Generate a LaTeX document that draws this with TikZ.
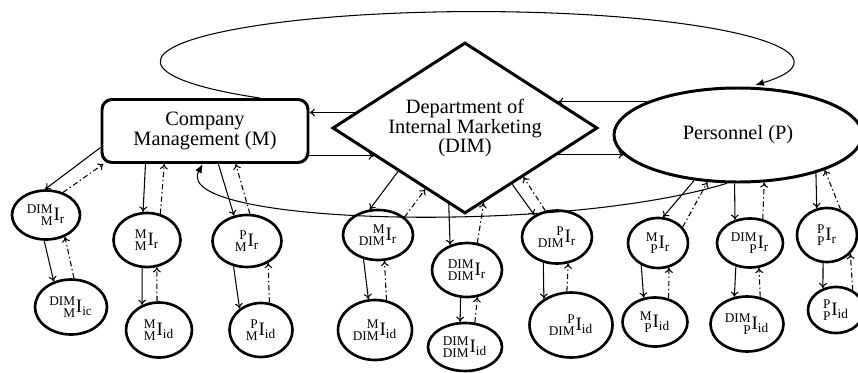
\documentclass[tikz,border=0pt]{standalone}
\usepackage{mathtools}
\usepackage{fontspec}
\setmainfont{Liberation Serif}
\usetikzlibrary{arrows.meta,positioning,shapes.geometric}
\newcommand{\ilab}[3]{$\prescript{\text{#1}}{\text{#2}}{\text{I}}_{\text{#3}}$}

\begin{document}
\begin{tikzpicture}[>={To[length=3pt,width=4.5pt]},font=\fontsize{11.6}{11.2}\selectfont,
  lnk/.style={->,line width=0.6pt},
  bck/.style={->,line width=0.6pt,dash pattern=on 3pt off 1.6pt on 0.8pt off 1.6pt},
  sub/.style={draw,ellipse,line width=1.5pt,inner sep=0pt,font=\fontsize{10.8}{12}\selectfont},
  loop/.style={line width=0.6pt,-{Latex[length=5pt,width=4pt]}}]
\useasboundingbox (0,0) rectangle (17.16,-7.44);
\node[draw,rounded corners=0.2cm,line width=1.7pt,minimum width=4.12cm,minimum height=1.26cm,align=center] (m) at (4.10,-2.62) {Company\\Management (M)};
\node[draw,diamond,aspect=1.55,line width=1.7pt,minimum width=5.30cm,minimum height=3.42cm,inner sep=0pt,align=center] (dim) at (9.30,-2.56) {Department of\\Internal Marketing\\(DIM)};
\node[draw,ellipse,line width=1.7pt,minimum width=4.96cm,minimum height=1.88cm] (p) at (14.76,-2.70) {Personnel (P)};
\node[sub,minimum width=1.36cm,minimum height=0.98cm] (dmr) at (0.92,-4.30) {\ilab{DIM}{M}{r}};
\node[sub,minimum width=1.44cm,minimum height=1.10cm] (dmic) at (1.42,-6.14) {\ilab{DIM}{M}{ic}};
\node[sub,minimum width=1.34cm,minimum height=1.08cm] (mmr) at (2.94,-4.80) {\ilab{M}{M}{r}};
\node[sub,minimum width=1.32cm,minimum height=1.10cm] (mmid) at (3.18,-6.60) {\ilab{M}{M}{id}};
\node[sub,minimum width=1.38cm,minimum height=1.04cm] (pmr) at (4.94,-4.82) {\ilab{P}{M}{r}};
\node[sub,minimum width=1.26cm,minimum height=1.08cm] (pmid) at (5.22,-6.60) {\ilab{P}{M}{id}};
\node[sub,minimum width=1.40cm,minimum height=1.00cm] (mdr) at (7.56,-4.70) {\ilab{M}{DIM}{r}};
\node[sub,minimum width=1.48cm,minimum height=1.20cm] (mdid) at (7.50,-6.60) {\ilab{M}{DIM}{id}};
\node[sub,minimum width=1.40cm,minimum height=1.08cm] (ddr) at (9.34,-5.40) {\ilab{DIM}{DIM}{r}};
\node[sub,minimum width=1.48cm,minimum height=0.96cm] (ddid) at (9.30,-6.94) {\ilab{DIM}{DIM}{id}};
\node[sub,minimum width=1.40cm,minimum height=1.06cm] (pdr) at (11.14,-4.74) {\ilab{P}{DIM}{r}};
\node[sub,minimum width=1.66cm,minimum height=1.30cm] (pdid) at (11.42,-6.50) {\ilab{P}{DIM}{id}};
\node[sub,minimum width=1.20cm,minimum height=1.00cm] (mpr) at (13.16,-4.86) {\ilab{M}{P}{r}};
\node[sub,minimum width=1.30cm,minimum height=0.98cm] (mpid) at (13.10,-6.44) {\ilab{M}{P}{id}};
\node[sub,minimum width=1.32cm,minimum height=0.98cm] (dpr) at (15.00,-4.86) {\ilab{DIM}{P}{r}};
\node[sub,minimum width=1.46cm,minimum height=1.10cm] (dpid) at (14.94,-6.48) {\ilab{DIM}{P}{id}};
\node[sub,minimum width=1.20cm,minimum height=1.08cm] (ppr) at (16.54,-4.70) {\ilab{P}{P}{r}};
\node[sub,minimum width=1.12cm,minimum height=0.92cm] (ppid) at (16.72,-6.20) {\ilab{P}{P}{id}};
\draw[lnk] (dim.172) -- (dim.172 -| m.east);
\draw[lnk] (m.east |- dim.197) -- (dim.197);
\draw[lnk] (p.160) -- (p.160 -| dim.16);
\draw[lnk] (dim.-16) -- (dim.-16 -| p.190);
\draw[loop] (m.31) arc[start angle=226.8,end angle=-28,x radius=6.32cm,y radius=1.00cm];
\draw[loop] (p.257) .. controls (11.20,-4.70) and (3.40,-4.50) .. (m.266);
\draw[lnk] (m.189) -- (dmr.92);
\draw[bck] (dmr.53) -- (m.198);
\draw[lnk] (dmr.266) -- (dmic.124);
\draw[bck] (dmic.84) -- (dmr.311);
\draw[lnk] (m.209) -- (mmr.98);
\draw[bck] (mmr.63) -- (m.219);
\draw[lnk] (mmr.260) -- (mmid.124);
\draw[bck] (mmid.94) -- (mmr.290);
\draw[lnk] (m.292) -- (pmr.117);
\draw[bck] (pmr.84) -- (m.313);
\draw[lnk] (pmr.242) -- (pmid.135);
\draw[bck] (pmid.73) -- (pmr.314);
\draw[lnk] (dim.213) -- (mdr.108);
\draw[bck] (mdr.34) -- (dim.237);
\draw[lnk] (mdr.239) -- (mdid.102);
\draw[bck] (mdid.69) -- (mdr.284);
\draw[lnk] (dim.258) -- (ddr.124);
\draw[bck] (ddr.69) -- (dim.284);
\draw[lnk] (ddr.257) -- (ddid.101);
\draw[bck] (ddid.68) -- (ddr.291);
\draw[lnk] (dim.310) -- (pdr.136);
\draw[bck] (pdr.114) -- (dim.320);
\draw[lnk] (pdr.242) -- (pdid.136);
\draw[bck] (pdid.97) -- (pdr.293);
\draw[lnk] (p.226) -- (mpr.79);
\draw[bck] (mpr.33) -- (p.237);
\draw[lnk] (mpr.233) -- (mpid.115);
\draw[bck] (mpid.60) -- (mpr.294);
\draw[lnk] (p.266) -- (dpr.123);
\draw[bck] (dpr.62) -- (p.299);
\draw[lnk] (dpr.239) -- (dpid.115);
\draw[bck] (dpid.64) -- (dpr.290);
\draw[lnk] (p.334) -- (ppr.111);
\draw[bck] (ppr.62) -- (p.338);
\draw[lnk] (ppr.262) -- (ppid.121);
\draw[bck] (ppid.50) -- (ppr.321);
\end{tikzpicture}
\end{document}
